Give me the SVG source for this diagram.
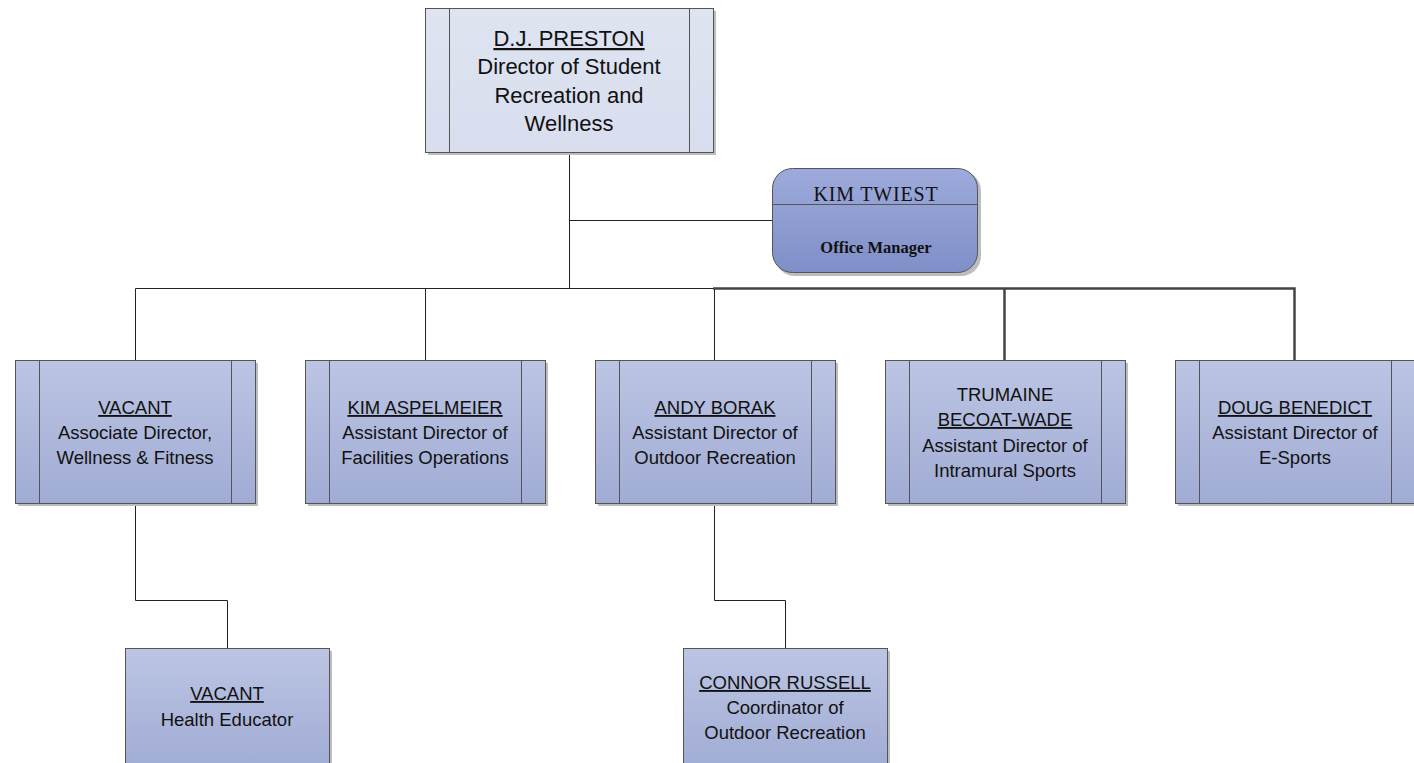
<svg xmlns="http://www.w3.org/2000/svg" width="1414" height="763" viewBox="0 0 1414 763">
<defs>
<linearGradient id="gBox" x1="0" y1="0" x2="0" y2="1"><stop offset="0" stop-color="#bcc5e3"/><stop offset="1" stop-color="#a1acd5"/></linearGradient>
<linearGradient id="gTop" x1="0" y1="0" x2="0" y2="1"><stop offset="0" stop-color="#dfe4f1"/><stop offset="1" stop-color="#d8deee"/></linearGradient>
<linearGradient id="gKim" x1="0" y1="0" x2="0" y2="1"><stop offset="0" stop-color="#9eaadb"/><stop offset="1" stop-color="#7f8fc8"/></linearGradient>
<style>
.box{stroke:#555;stroke-width:1}
.sh{fill:#bdbdbd}
.in{stroke:#555;stroke-width:1}
.t{font-family:"Liberation Sans",Arial,sans-serif;font-size:18.5px;fill:#111;text-anchor:middle}
.tt{font-family:"Liberation Sans",Arial,sans-serif;font-size:22px;fill:#111;text-anchor:middle}
.u{text-decoration:underline}
.s{font-family:"Liberation Serif","Times New Roman",serif;fill:#111;text-anchor:middle}
.c{fill:none;stroke:#222;stroke-width:1}
.ct{fill:none;stroke:#444;stroke-width:2.5}
</style>
</defs>
<g id="connectors">
<path class="c" d="M569.5 152 V288.5 M569.5 220.5 H772 M135.5 288.5 H714 M135.5 288.5 V360 M425.5 288.5 V360 M714.5 288.5 V360"/>
<path class="ct" d="M713 288.5 H1294.5 V360 M1004.5 288.5 V360"/>
<path class="c" d="M135.5 503 V600.5 H227.5 V648 M714.5 503 V600.5 H785.5 V648"/>
</g>
<g id="n-preston">
<rect class="sh" x="428" y="11" width="288" height="144"/>
<rect class="box" x="425.5" y="8.5" width="288" height="144" fill="url(#gTop)"/>
<path class="in" d="M449.5 8.5 V152.5 M689.5 8.5 V152.5"/>
<text class="tt u" x="569" y="46">D.J. PRESTON</text>
<text class="tt" x="569" y="74">Director of Student</text>
<text class="tt" x="569" y="103">Recreation and</text>
<text class="tt" x="569" y="131">Wellness</text>
</g>
<g id="n-twiest">
<rect class="sh" x="775" y="171" width="206" height="105" rx="20"/>
<rect class="box" x="772.5" y="168.5" width="205" height="104" rx="20" fill="url(#gKim)"/>
<path class="in" d="M772.5 204.5 H977.5"/>
<text class="s" x="876" y="201" font-size="20" letter-spacing="0.8">KIM TWIEST</text>
<text class="s" x="876" y="253" font-size="16.5" font-weight="bold">Office Manager</text>
</g>
<g id="n-vacant1">
<rect class="sh" x="18" y="363" width="240" height="143"/>
<rect class="box" x="15.5" y="360.5" width="240" height="143" fill="url(#gBox)"/>
<path class="in" d="M39.5 360.5 V503.5 M231.5 360.5 V503.5"/>
<text class="t u" x="135" y="414">VACANT</text>
<text class="t" x="135" y="439">Associate Director,</text>
<text class="t" x="135" y="464">Wellness &amp; Fitness</text>
</g>
<g id="n-aspelmeier">
<rect class="sh" x="308" y="363" width="240" height="143"/>
<rect class="box" x="305.5" y="360.5" width="240" height="143" fill="url(#gBox)"/>
<path class="in" d="M329.5 360.5 V503.5 M521.5 360.5 V503.5"/>
<text class="t u" x="425" y="414">KIM ASPELMEIER</text>
<text class="t" x="425" y="439">Assistant Director of</text>
<text class="t" x="425" y="464">Facilities Operations</text>
</g>
<g id="n-borak">
<rect class="sh" x="598" y="363" width="240" height="143"/>
<rect class="box" x="595.5" y="360.5" width="240" height="143" fill="url(#gBox)"/>
<path class="in" d="M619.5 360.5 V503.5 M811.5 360.5 V503.5"/>
<text class="t u" x="715" y="414">ANDY BORAK</text>
<text class="t" x="715" y="439">Assistant Director of</text>
<text class="t" x="715" y="464">Outdoor Recreation</text>
</g>
<g id="n-becoat">
<rect class="sh" x="888" y="363" width="240" height="143"/>
<rect class="box" x="885.5" y="360.5" width="240" height="143" fill="url(#gBox)"/>
<path class="in" d="M909.5 360.5 V503.5 M1101.5 360.5 V503.5"/>
<text class="t" x="1005" y="401">TRUMAINE</text>
<text class="t u" x="1005" y="426">BECOAT-WADE</text>
<text class="t" x="1005" y="452">Assistant Director of</text>
<text class="t" x="1005" y="477">Intramural Sports</text>
</g>
<g id="n-benedict">
<rect class="sh" x="1178" y="363" width="240" height="143"/>
<rect class="box" x="1175.5" y="360.5" width="240" height="143" fill="url(#gBox)"/>
<path class="in" d="M1199.5 360.5 V503.5 M1391.5 360.5 V503.5"/>
<text class="t u" x="1295" y="414">DOUG BENEDICT</text>
<text class="t" x="1295" y="439">Assistant Director of</text>
<text class="t" x="1295" y="464">E-Sports</text>
</g>
<g id="n-vacant2">
<rect class="sh" x="128" y="651" width="204" height="120"/>
<rect class="box" x="125.5" y="648.5" width="204" height="120" fill="url(#gBox)"/>
<text class="t u" x="227" y="700">VACANT</text>
<text class="t" x="227" y="726">Health Educator</text>
</g>
<g id="n-russell">
<rect class="sh" x="686" y="651" width="204" height="120"/>
<rect class="box" x="683.5" y="648.5" width="204" height="120" fill="url(#gBox)"/>
<text class="t u" x="785" y="689">CONNOR RUSSELL</text>
<text class="t" x="785" y="714">Coordinator of</text>
<text class="t" x="785" y="739">Outdoor Recreation</text>
</g>
</svg>
